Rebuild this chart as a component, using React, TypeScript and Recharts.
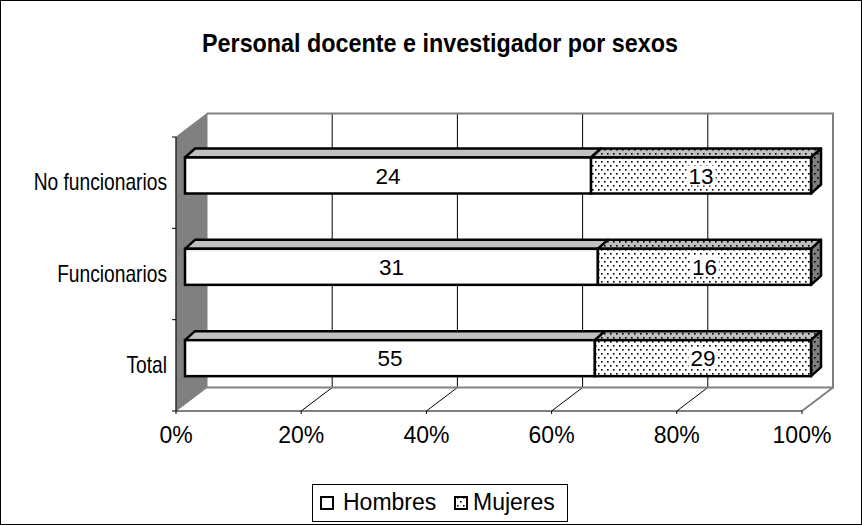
import { BarChart, Bar, XAxis, YAxis, ReferenceArea } from "recharts";

const categories = ["No funcionarios", "Funcionarios", "Total"];
const hombres = [24, 31, 55];
const mujeres = [13, 16, 29];
const seriesNames = ["Hombres", "Mujeres"];
const xTicks = [0, 0.2, 0.4, 0.6, 0.8, 1];
const title = "Personal docente e investigador por sexos";

const data = categories.map((name, i) => ({
  name,
  hombres: hombres[i],
  mujeres: mujeres[i],
}));

const W = 862;
const H = 525;
const PLOT = { left: 176, top: 137, right: 802, bottom: 411 };
// 3D depth of the walls and of the bars
const DEPTH_X = 31;
const DEPTH_Y = 23.5;
const BAR_DX = 9;
const BAR_DY = -7.5;
const BAR_DEPTH_X = 10;
const BAR_DEPTH_Y = 9;
const FONT = '"Liberation Sans", Arial, sans-serif';

function DotPattern({ id, bg }: { id: string; bg: string }) {
  return (
    <pattern id={id} width="6" height="8" patternUnits="userSpaceOnUse">
      <rect width="6" height="8" fill={bg} />
      <rect x="1" y="1" width="1.6" height="1.6" fill="#000" />
      <rect x="4" y="5" width="1.6" height="1.6" fill="#000" />
    </pattern>
  );
}

// back wall, left wall and floor, drawn from the plot rectangle
function Walls(props: any) {
  const { x, y, width, height } = props;
  const bx = x + DEPTH_X;
  const by = y - DEPTH_Y;
  const inner = xTicks.slice(1, -1);
  return (
    <g>
      <defs>
        <DotPattern id="dotsFace" bg="#fff" />
        <DotPattern id="dotsTop" bg="#c0c0c0" />
        <DotPattern id="dotsSide" bg="#808080" />
      </defs>
      <rect x={bx} y={by} width={width} height={height} fill="#fff" />
      {inner.map((t) => (
        <line
          key={"g" + t}
          x1={bx + t * width}
          x2={bx + t * width}
          y1={by}
          y2={by + height}
          stroke="#000"
          strokeWidth={1}
        />
      ))}
      {inner.map((t) => (
        <line
          key={"f" + t}
          x1={x + t * width}
          y1={y + height}
          x2={bx + t * width}
          y2={by + height}
          stroke="#000"
          strokeWidth={1}
        />
      ))}
      <polyline
        points={`${bx},${by} ${bx + width},${by} ${bx + width},${by + height} ${bx},${by + height}`}
        fill="none"
        stroke="#808080"
        strokeWidth={2}
      />
      <line
        x1={x + width}
        y1={y + height}
        x2={bx + width}
        y2={by + height}
        stroke="#808080"
        strokeWidth={2}
      />
      <polygon
        points={`${x},${y} ${bx},${by} ${bx},${by + height} ${x},${y + height}`}
        fill="#808080"
        stroke="#808080"
        strokeWidth={1}
      />
    </g>
  );
}

function Bar3D(props: any) {
  const { x, y, width, height, face, top, side, last, dataKey, payload } = props;
  if (!width || !height) return null;
  const fx = x + BAR_DX;
  const fy = y + BAR_DY;
  const dx = BAR_DEPTH_X;
  const dy = BAR_DEPTH_Y;
  const label = String(payload[dataKey]);
  const lw = label.length * 12.5 + 4;
  return (
    <g>
      <polygon
        points={`${fx},${fy} ${fx + dx},${fy - dy} ${fx + width + dx},${fy - dy} ${fx + width},${fy}`}
        fill={top}
        stroke="#000"
        strokeWidth={2.5}
        strokeLinejoin="round"
      />
      {last && (
        <polygon
          points={`${fx + width},${fy} ${fx + width + dx},${fy - dy} ${fx + width + dx},${fy + height - dy} ${fx + width},${fy + height}`}
          fill={side}
          stroke="#000"
          strokeWidth={2.5}
          strokeLinejoin="round"
        />
      )}
      <rect x={fx} y={fy} width={width} height={height} fill={face} stroke="#000" strokeWidth={2.5} />
      <rect x={fx + width / 2 - lw / 2} y={fy + height / 2 - 10} width={lw} height={20} fill="#fff" />
      <text
        x={fx + width / 2}
        y={fy + height / 2 + 8}
        textAnchor="middle"
        fontSize={22.5}
        fontFamily={FONT}
        fill="#000"
      >
        {label}
      </text>
    </g>
  );
}

function CategoryTick(props: any) {
  const { x, y, payload, index } = props;
  const band = (PLOT.bottom - PLOT.top) / categories.length;
  return (
    <g>
      <line x1={x - 4} x2={x} y1={y - band / 2} y2={y - band / 2} stroke="#000" />
      {index === categories.length - 1 && (
        <line x1={x - 4} x2={x} y1={y + band / 2} y2={y + band / 2} stroke="#000" />
      )}
      <g transform={`translate(${x - 9},${y + 7.5}) scale(0.8,1)`}>
        <text textAnchor="end" fontSize={24} fontFamily={FONT} fill="#000">
          {payload.value}
        </text>
      </g>
    </g>
  );
}

export default function App() {
  const yAxisWidth = 170;
  const xAxisHeight = 50;
  return (
    <div style={{ position: "absolute", left: 0, top: 0, width: W, height: H, background: "#fff" }}>
      <BarChart
        width={W}
        height={H}
        data={data}
        layout="vertical"
        stackOffset="expand"
        barSize={36}
        margin={{
          top: PLOT.top,
          right: W - PLOT.right,
          bottom: H - PLOT.bottom - xAxisHeight,
          left: PLOT.left - yAxisWidth,
        }}
      >
        <XAxis
          type="number"
          domain={[0, 1]}
          ticks={xTicks}
          height={xAxisHeight}
          tickFormatter={(v) => `${Math.round(Number(v) * 100)}%`}
          tick={{ fontSize: 23, fill: "#000", fontFamily: FONT }}
          tickSize={3}
          tickMargin={13}
          stroke="#000"
          axisLine={{ stroke: "#000" }}
          tickLine={{ stroke: "#000" }}
        />
        <YAxis
          type="category"
          dataKey="name"
          width={yAxisWidth}
          tick={<CategoryTick />}
          tickLine={false}
          tickSize={0}
          tickMargin={0}
          axisLine={{ stroke: "#000" }}
        />
        <ReferenceArea x1={0} x2={1} shape={<Walls />} />
        <Bar
          dataKey="hombres"
          name={seriesNames[0]}
          stackId="a"
          isAnimationActive={false}
          shape={(p: any) => <Bar3D {...p} dataKey="hombres" face="#fff" top="#c0c0c0" side="#808080" />}
        />
        <Bar
          dataKey="mujeres"
          name={seriesNames[1]}
          stackId="a"
          isAnimationActive={false}
          shape={(p: any) => (
            <Bar3D {...p} dataKey="mujeres" face="url(#dotsFace)" top="url(#dotsTop)" side="url(#dotsSide)" last />
          )}
        />
      </BarChart>
      <svg
        width={W}
        height={H}
        style={{ position: "absolute", left: 0, top: 0, pointerEvents: "none" }}
      >
        <defs>
          <DotPattern id="legendDots" bg="#fff" />
        </defs>
        <text
          x={440}
          y={52}
          textAnchor="middle"
          fontSize={26}
          fontWeight="bold"
          fontFamily={FONT}
          textLength={476}
          lengthAdjust="spacingAndGlyphs"
        >
          {title}
        </text>
        <rect x={312.5} y={484.5} width={255} height={37} fill="#fff" stroke="#000" />
        <rect x={321} y={497} width={12} height={12} fill="#fff" stroke="#000" strokeWidth={2} />
        <text x={343} y={510} fontSize={23} fontFamily={FONT}>
          {seriesNames[0]}
        </text>
        <rect x={455} y={497} width={12} height={12} fill="url(#legendDots)" stroke="#000" strokeWidth={2} />
        <text x={473} y={510} fontSize={23} fontFamily={FONT}>
          {seriesNames[1]}
        </text>
        <rect x={0.5} y={0.5} width={W - 1} height={H - 1} fill="none" stroke="#000" />
      </svg>
    </div>
  );
}
